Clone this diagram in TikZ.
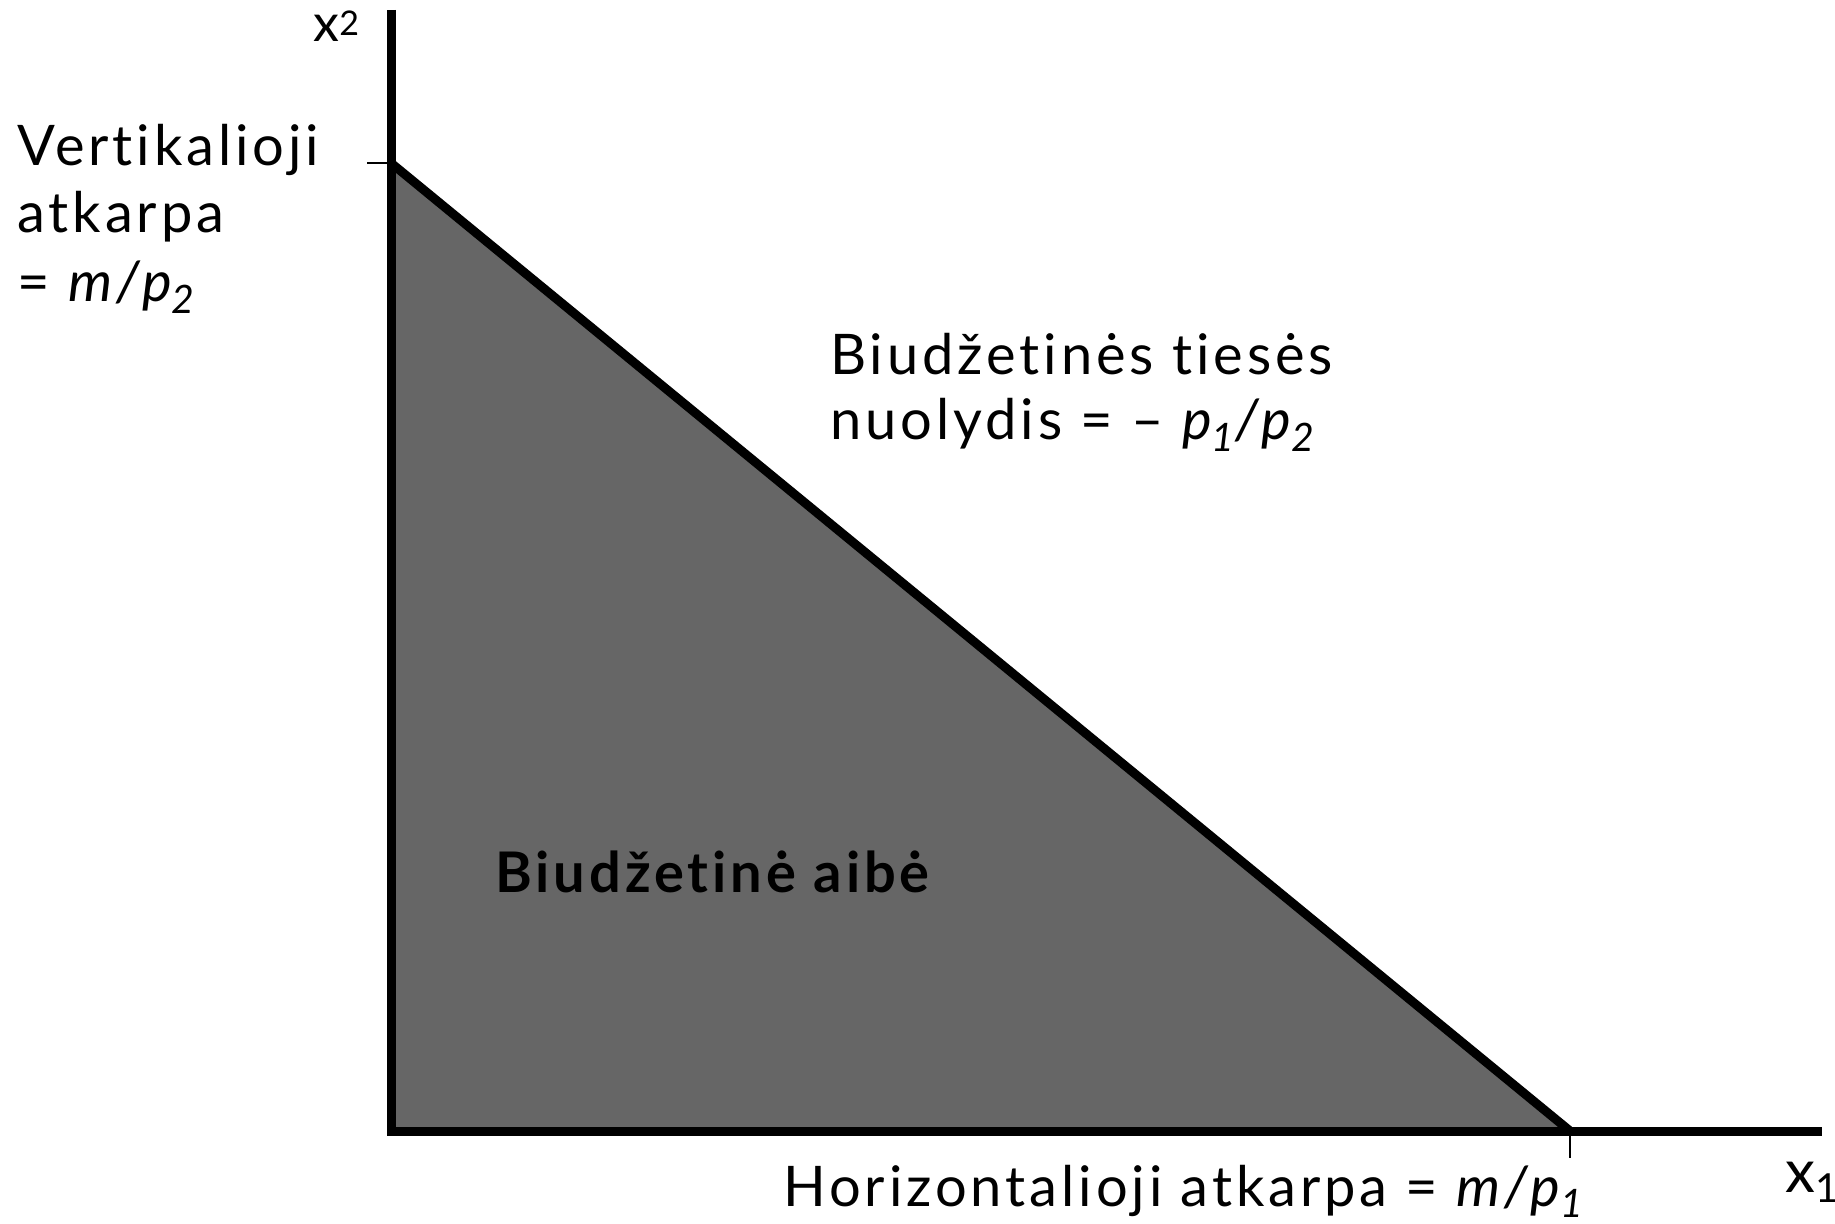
\documentclass[tikz,border=0pt]{standalone}
\usepackage{fontspec}
\setmainfont[LetterSpace=7,Ligatures=NoCommon]{Lato}
\begin{document}
\begin{tikzpicture}[x=0.5pt,y=-0.5pt,
  axis/.style={line width=4.5pt},
  budget/.style={line width=4.5pt},
  tick/.style={line width=0.6pt},
  lbl/.style={anchor=base west,inner sep=0pt,font=\fontsize{28}{33}\selectfont},
  setfill/.style={fill=black!60}]
\useasboundingbox (0,0) rectangle (1835,1224);
\coordinate (O) at (391,1131);
\coordinate (ytop) at (391,10);
\coordinate (xend) at (1822,1131);
\coordinate (A) at (391,163);
\coordinate (B) at (1570,1131);
\coordinate (atick) at (367,163);
\coordinate (btick) at (1570,1158);

\fill[setfill] (A) -- (B) -- (O) -- cycle;
\draw[axis] (ytop) -- (O) -- (xend);
\draw[budget] (A) -- (B);
\draw[tick] (atick) -- (A);
\draw[tick] (B) -- (btick);

\node[lbl,font=\fontsize{26}{30}\selectfont] (xtwo) at (313,42) {x\raisebox{3pt}{\fontsize{17}{20}\selectfont 2}};
\node[lbl,font=\fontsize{30}{36}\selectfont] (xone) at (1785,1192) {x\raisebox{-5pt}{\fontsize{20}{24}\selectfont 1}};

\node[lbl] (vert1) at (17,166) {Vertikalioji};
\node[lbl] (vert2) at (17,233) {atkarpa};
\node[lbl] (vert3) at (17,302) {= {\itshape m/p\textsubscript{2}}};

\node[lbl] (slope1) at (830,375) {Biudžetinės tiesės};
\node[lbl] (slope2) at (830,440) {nuolydis = – {\itshape p\textsubscript{1}/p\textsubscript{2}}};

\node[lbl,font=\fontsize{28}{34}\bfseries] (set) at (495,892) {Biudžetinė aibė};

\node[lbl] (horiz) at (783,1206) {Horizontalioji atkarpa = {\itshape m/p\textsubscript{1}}};
\end{tikzpicture}
\end{document}
